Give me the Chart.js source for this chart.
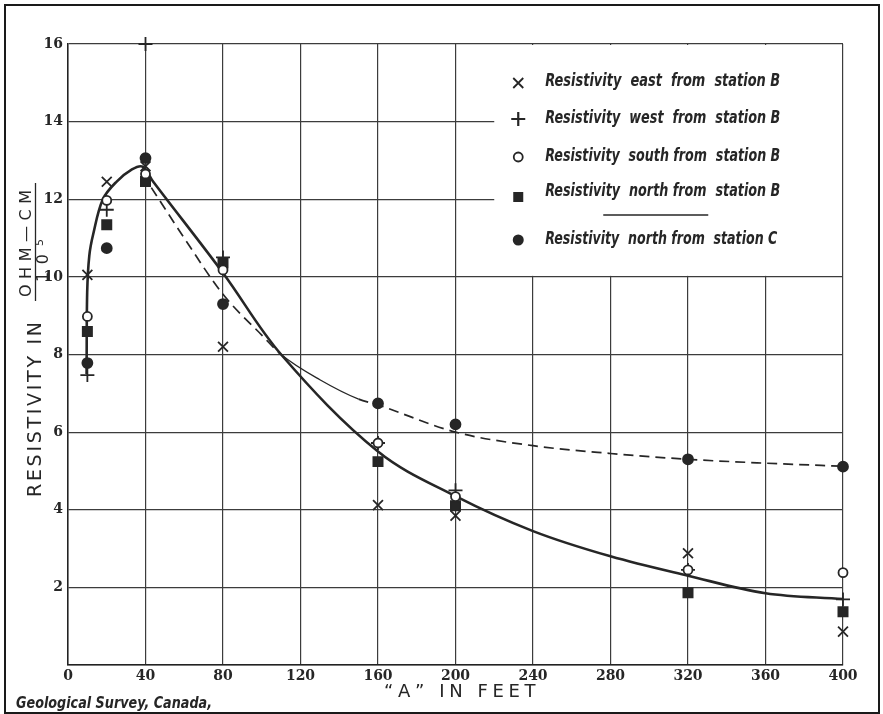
<!DOCTYPE html>
<html>
<head>
<meta charset="utf-8">
<script src="https://cdn.jsdelivr.net/npm/chart.js"></script>
<style>
  html, body { margin: 0; padding: 0; background: #fff; }
  #wrap { width: 883px; height: 714px; }
</style>
</head>
<body>
<div id="wrap"><canvas id="myChart" width="883" height="714"></canvas></div>
<script>
let chart;

// electrode spacing "A" (feet) at which readings were taken
const distances = [10, 20, 40, 80, 160, 200, 320, 400];
// resistivity, ohm-cm / 10^5
const eastB  = [10.05, 12.45, 12.85, 8.2, 4.12, 3.85, 2.88, 0.86];
const westB  = [7.47, 11.73, 16.0, 10.5, 5.72, 4.5, 2.45, 1.69];
const southB = [8.98, 11.97, 12.65, 10.18, 5.72, 4.34, 2.45, 2.38];
const northB = [8.59, 11.34, 12.46, 10.36, 5.24, 4.1, 1.86, 1.37];
const northC = [7.78, 10.74, 13.06, 9.3, 6.74, 6.2, 5.3, 5.11];

// hand-drawn curves
const curveBX = [9.6, 9.9, 11, 13, 18, 25, 33, 38.5, 44, 80, 110, 160, 200, 240, 280, 320, 360, 400];
const curveBY = [7.5, 9.6, 10.55, 11.1, 12.0, 12.45, 12.77, 12.84, 12.45, 10.1, 8.0, 5.5, 4.35, 3.45, 2.8, 2.3, 1.85, 1.7];
const curveCX = [43, 60, 80, 100, 110, 130, 150, 160, 200, 240, 280, 320, 360, 400];
const curveCY = [12.3, 11.0, 9.55, 8.5, 8.0, 7.35, 6.85, 6.7, 6.0, 5.65, 5.45, 5.3, 5.2, 5.12];

const legendLabels = [
    'Resistivity  east  from  station B',
    'Resistivity  west  from  station B',
    'Resistivity  south from  station B',
    'Resistivity  north from  station B',
    'Resistivity  north from  station C',
];

const INK = '#262626';

function pts(xs, ys) {
    return xs.map((x, i) => ({x: x, y: ys[i]}));
}

function spacedText(ctx, text, x, y, width) {
    // draw text letter-spaced to a given total width
    let m = ctx.measureText(text).width;
    let extra = text.length > 1 ? (width - m) / (text.length - 1) : 0;
    if (extra < 0) {
        squeezeText(ctx, text, x, y, width);
        return;
    }
    let cx = x;
    for (const ch of text) {
        ctx.fillText(ch, cx, y);
        cx += ctx.measureText(ch).width + extra;
    }
}

function squeezeText(ctx, text, x, y, width) {
    let m = ctx.measureText(text).width;
    ctx.save();
    ctx.translate(x, y);
    ctx.scale(width / m, 1);
    ctx.fillText(text, 0, 0);
    ctx.restore();
}

function marker(ctx, style, x, y) {
    ctx.save();
    ctx.strokeStyle = INK;
    ctx.fillStyle = INK;
    ctx.lineWidth = 1.8;
    ctx.beginPath();
    if (style === 'x') {
        ctx.moveTo(x - 5, y - 5); ctx.lineTo(x + 5, y + 5);
        ctx.moveTo(x + 5, y - 5); ctx.lineTo(x - 5, y + 5);
        ctx.stroke();
    } else if (style === '+') {
        ctx.lineWidth = 2.2;
        ctx.moveTo(x - 7, y); ctx.lineTo(x + 7, y);
        ctx.moveTo(x, y - 7); ctx.lineTo(x, y + 7);
        ctx.stroke();
    } else if (style === 'o') {
        ctx.arc(x, y, 4.5, 0, Math.PI * 2);
        ctx.fillStyle = '#fff';
        ctx.fill();
        ctx.stroke();
    } else if (style === 'sq') {
        ctx.fillRect(x - 5, y - 5, 10, 10);
    } else {
        ctx.arc(x, y, 5.5, 0, Math.PI * 2);
        ctx.fill();
    }
    ctx.restore();
}

const decorations = {
    id: 'decorations',
    beforeDraw(c) {
        const ctx = c.ctx;
        ctx.save();
        ctx.fillStyle = '#fff';
        ctx.fillRect(0, 0, c.width, c.height);
        ctx.restore();
    },
    beforeDatasetsDraw(c) {
        // white legend panel over the grid, top right
        const ctx = c.ctx, xs = c.scales.x, ys = c.scales.y;
        const l = xs.getPixelForValue(220), r = xs.getPixelForValue(400);
        const t = ys.getPixelForValue(16), b = ys.getPixelForValue(10);
        ctx.save();
        ctx.fillStyle = '#fff';
        ctx.fillRect(l, t + 1, r - l - 1, b - t - 2);
        const styles = ['x', '+', 'o', 'sq', 'dot'];
        const rowsMark = [83, 119, 157, 197, 240];
        const rowsText = [82, 119, 157, 192, 240];
        ctx.fillStyle = INK;
        ctx.textBaseline = 'middle';
        ctx.textAlign = 'left';
        ctx.font = 'bold italic 17px "DejaVu Sans Condensed", "DejaVu Sans"';
        for (let i = 0; i < 5; i++) {
            marker(ctx, styles[i], l + 24, rowsMark[i]);
            ctx.fillStyle = INK;
            squeezeText(ctx, legendLabels[i], l + 51, rowsText[i], i === 4 ? 232 : 235);
        }
        ctx.strokeStyle = INK;
        ctx.lineWidth = 1.3;
        ctx.beginPath();
        ctx.moveTo(l + 109, 215);
        ctx.lineTo(l + 214, 215);
        ctx.stroke();
        ctx.restore();
    },
    afterDraw(c) {
        const ctx = c.ctx;
        ctx.save();
        // outer frame
        ctx.strokeStyle = '#1a1a1a';
        ctx.lineWidth = 2;
        ctx.strokeRect(5, 5, 874, 708);

        ctx.fillStyle = INK;
        ctx.textBaseline = 'middle';
        ctx.textAlign = 'left';

        // x title
        ctx.font = '18px "DejaVu Sans"';
        spacedText(ctx, '\u201CA\u201D IN FEET', 384, 692, 147);

        // credit line
        ctx.font = 'bold italic 15px "DejaVu Sans Condensed", "DejaVu Sans"';
        squeezeText(ctx, 'Geological Survey, Canada,', 16, 704, 196);

        // y title with fraction, rotated
        ctx.rotate(-Math.PI / 2);
        ctx.font = '19px "DejaVu Sans"';
        spacedText(ctx, 'RESISTIVITY IN', -497, 36, 175);
        ctx.font = '16px "DejaVu Sans"';
        spacedText(ctx, 'OHM\u2014CM', -297, 27, 107);
        ctx.strokeStyle = INK;
        ctx.lineWidth = 1.3;
        ctx.beginPath();
        ctx.moveTo(-301, 35.5);
        ctx.lineTo(-183, 35.5);
        ctx.stroke();
        ctx.font = '16px "DejaVu Sans"';
        spacedText(ctx, '10', -282, 44, 28);
        ctx.font = '11px "DejaVu Sans"';
        ctx.fillText('5', -246, 40);
        ctx.restore();
    }
};

const pointDs = (label, values, style, radius, fill, order) => ({
    type: 'scatter',
    label: label,
    data: pts(distances, values),
    pointStyle: style,
    pointRadius: radius,
    pointBackgroundColor: fill,
    pointBorderColor: INK,
    pointBorderWidth: 1.8,
    showLine: false,
    clip: false,
    order: order,
});

const config = {
    type: 'scatter',
    data: {
        datasets: [
            pointDs(legendLabels[2], southB, 'circle', 4.5, '#fff', 1),
            pointDs(legendLabels[0], eastB, 'crossRot', 7, INK, 2),
            pointDs(legendLabels[1], westB, 'cross', 7, INK, 3),
            pointDs(legendLabels[3], northB, 'rect', 6.5, INK, 4),
            pointDs(legendLabels[4], northC, 'circle', 5, INK, 5),
            {
                type: 'line',
                label: 'curve B',
                data: pts(curveBX, curveBY),
                borderColor: INK,
                borderWidth: 2.6,
                pointRadius: 0,
                tension: 0.35,
                fill: false,
                clip: false,
                order: 10,
            },
            {
                type: 'line',
                label: 'curve C',
                data: pts(curveCX, curveCY),
                borderColor: INK,
                borderWidth: 1.7,
                pointRadius: 0,
                cubicInterpolationMode: 'monotone',
                fill: false,
                order: 11,
                segment: {
                    borderDash: s => (s.p0.parsed.x >= 110 && s.p1.parsed.x <= 150) ? [] : [10, 6],
                    borderWidth: s => (s.p0.parsed.x >= 110 && s.p1.parsed.x <= 150) ? 1.3 : 1.7,
                },
            },
        ]
    },
    options: {
        responsive: false,
        animation: false,
        events: [],
        layout: {padding: {left: 0, right: 40, top: 44, bottom: 0}},
        plugins: {
            legend: {display: false},
            tooltip: {enabled: false},
        },
        scales: {
            x: {
                type: 'linear',
                min: 0,
                max: 400,
                ticks: {
                    stepSize: 40,
                    color: INK,
                    padding: 3,
                    font: {family: '"DejaVu Serif"', weight: 'bold', size: 14},
                },
                grid: {color: '#3c3c3c', lineWidth: 1.2, drawTicks: false},
                border: {color: '#222', width: 1.5},
                afterFit: s => { s.height = 49; },
            },
            y: {
                type: 'linear',
                min: 0,
                max: 16,
                ticks: {
                    stepSize: 2,
                    color: INK,
                    padding: 5,
                    callback: v => v === 0 ? '' : v,
                    font: {family: '"DejaVu Serif"', weight: 'bold', size: 14},
                },
                grid: {color: '#3c3c3c', lineWidth: 1.2, drawTicks: false},
                border: {color: '#222', width: 1.5},
                afterFit: s => { s.width = 68; },
            },
        },
    },
    plugins: [decorations],
};

chart = new Chart(document.getElementById('myChart'), config);
</script>
</body>
</html>
